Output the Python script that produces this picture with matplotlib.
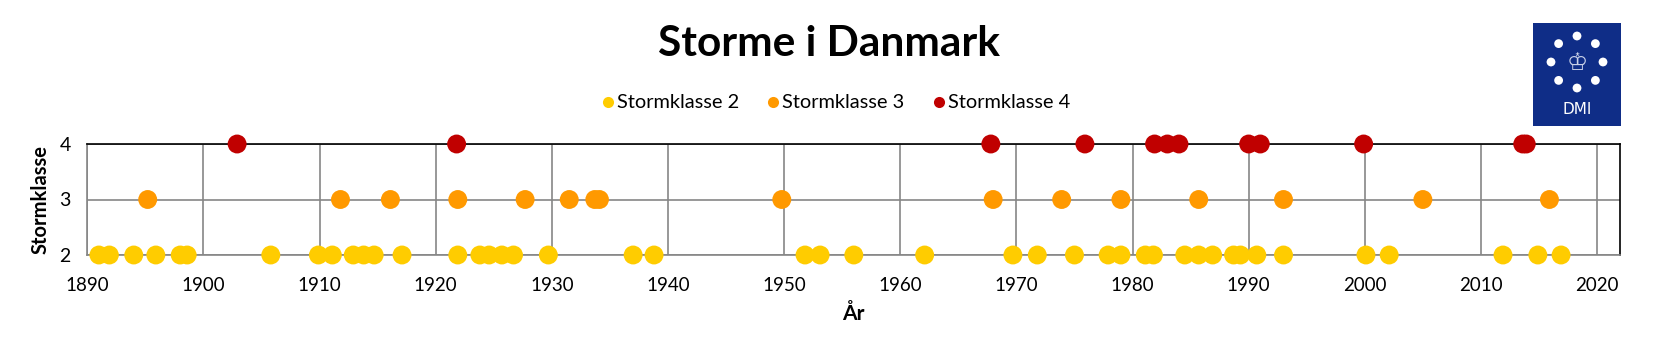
import math
import matplotlib
matplotlib.use("Agg")
import matplotlib.pyplot as plt
from matplotlib.patches import Rectangle, Circle
from matplotlib.lines import Line2D
from matplotlib.transforms import IdentityTransform

plt.rcParams['font.family'] = ['Lato', 'DejaVu Sans']

# ---- data ----
years_k2 = [1891.0, 1891.9, 1894.0, 1895.9, 1898.0, 1898.6, 1905.8, 1909.9, 1911.1,
            1912.9, 1913.8, 1914.7, 1917.1, 1921.9, 1923.8, 1924.6, 1925.7, 1926.7,
            1929.7, 1937.0, 1938.8, 1951.8, 1953.1, 1956.0, 1962.1, 1969.7, 1971.8,
            1975.0, 1977.9, 1979.0, 1981.1, 1981.8, 1984.5, 1985.7, 1986.9, 1988.7,
            1989.3, 1990.7, 1993.0, 2000.1, 2002.1, 2011.9, 2014.9, 2016.9]
years_k3 = [1895.2, 1911.8, 1916.1, 1921.9, 1927.7, 1931.5, 1933.7, 1934.1, 1949.8,
            1968.0, 1973.9, 1979.0, 1985.7, 1993.0, 2005.0, 2015.9]
years_k4 = [1902.9, 1921.8, 1967.8, 1975.9, 1981.9, 1983.0, 1984.0, 1990.0, 1991.0,
            1999.9, 2013.6, 2013.9]
series_names = ['Stormklasse 2', 'Stormklasse 3', 'Stormklasse 4']
series_levels = [2, 3, 4]
series_colors = ['#FFCC00', '#FF9900', '#C00000']
x_ticks = list(range(1890, 2021, 10))
y_ticks = [2, 3, 4]

W, H = 1661, 351
fig = plt.figure(figsize=(W / 100, H / 100), dpi=100)
ax = fig.add_axes([87.3 / W, 1 - 255 / H, (1620.3 - 87.3) / W, (255 - 144) / H])

for yrs, lvl, col, name in zip([years_k2, years_k3, years_k4], series_levels,
                                series_colors, series_names):
    ax.scatter(yrs, [lvl] * len(yrs), s=185, color=col, edgecolors='none',
               zorder=3, clip_on=False, label=name)

ax.set_xlim(1890, 2022)
ax.set_ylim(2, 4)
ax.set_xticks(x_ticks)
ax.set_yticks(y_ticks)
ax.tick_params(axis='both', length=0, labelsize=13.5)
ax.tick_params(axis='x', pad=16)
ax.tick_params(axis='y', pad=12, labelsize=14)
ax.grid(True, color='#868686', linewidth=1.2, zorder=0)
ax.set_axisbelow(True)
for side in ['left', 'bottom']:
    ax.spines[side].set_color('#868686')
    ax.spines[side].set_linewidth(1.2)
for side in ['top', 'right']:
    ax.spines[side].set_color('black')
    ax.spines[side].set_linewidth(1.2)

ax.set_xlabel('År', fontsize=15, fontweight='bold', labelpad=7)
ax.set_ylabel('Stormklasse', fontsize=14.5, fontweight='bold', labelpad=6)

fig.text(829 / W, 1 - 44 / H, 'Storme i Danmark', ha='center', va='center',
         fontsize=30.5, fontweight='bold')

handles = [Line2D([], [], marker='o', linestyle='none', markersize=8,
                  markerfacecolor=c, markeredgecolor='none') for c in series_colors]
fig.legend(handles, series_names, loc='center', bbox_to_anchor=(835 / W, 1 - 103 / H),
           ncol=3, frameon=False, fontsize=14.4, handletextpad=0.05,
           columnspacing=1.3, handlelength=0.8)

# DMI logo (pixel coordinates, origin bottom-left)
idt = IdentityTransform()
lx0, lx1, ly0, ly1 = 1533, 1621, 23, 126
fig.patches.append(Rectangle((lx0, H - ly1), lx1 - lx0, ly1 - ly0,
                             transform=idt, facecolor='#0F2D87', edgecolor='none'))
cx, cy, r = 1577, 62, 26
for k in range(8):
    a = math.pi / 2 - k * math.pi / 4
    px = cx + r * math.cos(a)
    py = cy - r * math.sin(a)
    fig.patches.append(Circle((px, H - py), 4.4, transform=idt,
                              facecolor='white', edgecolor='none'))
fig.text(cx / W, 1 - (cy + 1) / H, '\u2654', ha='center', va='center', fontsize=17,
         color='#C8D0E8', family=['DejaVu Sans'])
fig.text(cx / W, 1 - 110 / H, 'DMI', ha='center', va='center', fontsize=11,
         color='white', family=['DejaVu Sans'])

fig.savefig('out.png', dpi=100)
